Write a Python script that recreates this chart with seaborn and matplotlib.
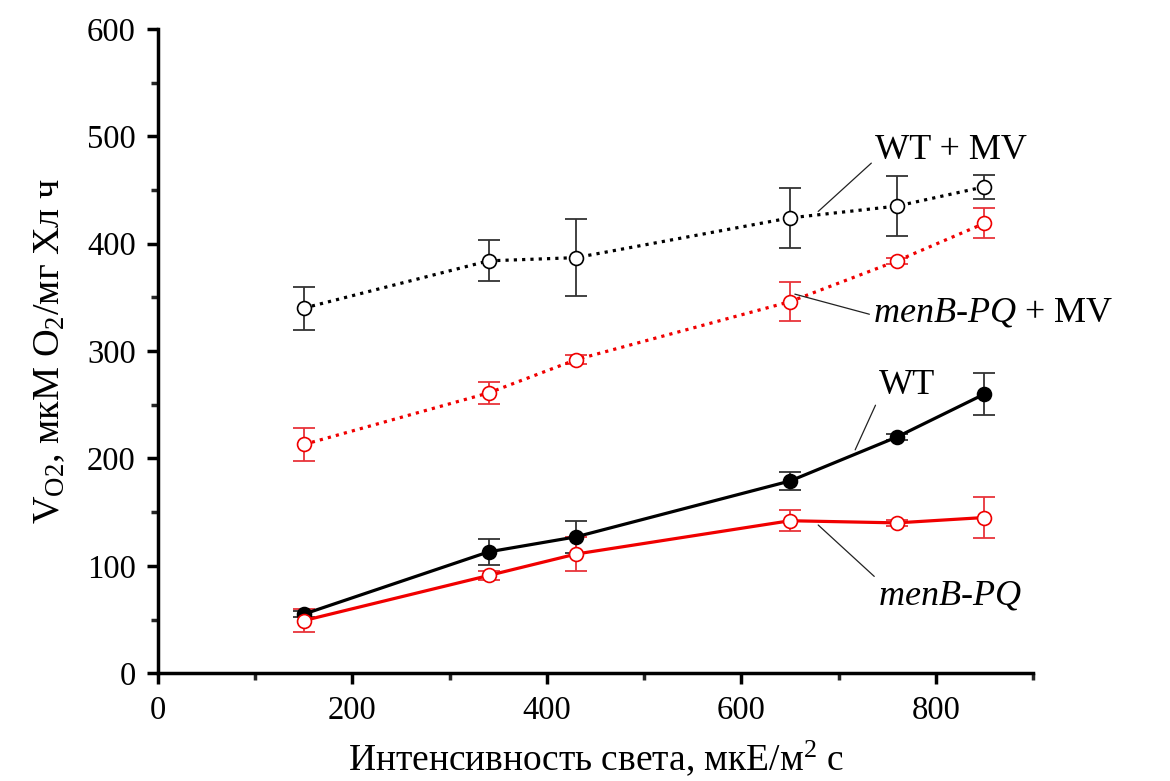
import numpy as np
import pandas as pd
import matplotlib
matplotlib.use("Agg")
import matplotlib.pyplot as plt
import seaborn as sns

sns.set_theme(style="ticks")
plt.rcParams['font.family'] = ['Liberation Serif', 'DejaVu Serif']
plt.rcParams['mathtext.fontset'] = 'custom'
plt.rcParams['mathtext.rm'] = 'Liberation Serif'
plt.rcParams['mathtext.it'] = 'Liberation Serif:italic'
plt.rcParams['text.color'] = 'black'
plt.rcParams['axes.labelcolor'] = 'black'

light = [150, 340, 430, 650, 760, 850]
wt_mv = [340, 384, 387, 424, 435, 453]
wt_mv_err = [20, 19, 36, 28, 28, 11]
pq_mv = [213, 261, 292, 346, 384, 419]
pq_mv_err = [15, 10, 4, 18, 3, 14]
wt = [55, 113, 127, 179, 220, 260]
wt_err = [3, 12, 15, 8, 3, 20]
pq = [49, 91, 111, 142, 140, 145]
pq_err = [11, 4, 16, 10, 3, 19]

RED = '#f00000'
RED_ERR = '#e8343a'

fig = plt.figure(figsize=(11.7, 7.81), dpi=100)
ax = fig.add_axes([0.135, 0.138, 0.748, 0.825])

series = [
    (wt_mv, wt_mv_err, 'black', '#333333', 'white', (0, (1, 1.6))),
    (pq_mv, pq_mv_err, RED, RED_ERR, 'white', (0, (1, 1.6))),
    (wt, wt_err, 'black', '#333333', 'black', '-'),
    (pq, pq_err, RED, RED_ERR, 'white', '-'),
]

for vals, errs, col, ecol, face, ls in series:
    df = pd.DataFrame({'x': light, 'y': vals})
    ax.errorbar(light, vals, yerr=errs, fmt='none', ecolor=ecol,
                elinewidth=1.3, capsize=8, capthick=1.3, zorder=2)
    sns.lineplot(data=df, x='x', y='y', ax=ax, color=col, linewidth=2.3,
                 linestyle=ls, marker='o', markersize=10,
                 markerfacecolor=face, markeredgecolor=col,
                 markeredgewidth=1.2, zorder=3)

ax.set_xlim(0, 900)
ax.set_ylim(0, 600)
ax.set_xticks([0, 200, 400, 600, 800])
ax.set_xticks([100, 300, 500, 700, 900], minor=True)
ax.set_yticks([0, 100, 200, 300, 400, 500, 600])
ax.set_yticks(np.arange(50, 600, 100), minor=True)
ax.tick_params(axis='both', which='major', direction='out', length=8, width=2.5,
               labelsize=23.5, colors='black', pad=8)
ax.tick_params(axis='both', which='minor', direction='out', length=5, width=2.5)
for s in ['top', 'right']:
    ax.spines[s].set_visible(False)
for s in ['left', 'bottom']:
    ax.spines[s].set_linewidth(2.5)
    ax.spines[s].set_color('black')

ax.set_xlabel('Интенсивность света, мкЕ/м$^2$ с', fontsize=27, labelpad=9)
ax.set_ylabel('V$_{\\mathrm{O2}}$, мкМ O$_2$/мг Хл ч', fontsize=27.5, labelpad=14)

lw = 0.9
fs = 26
ax.annotate('WT + MV', xy=(679, 430), xytext=(737, 487), fontsize=fs,
            va='center', ha='left',
            arrowprops=dict(arrowstyle='-', color='#222222', lw=lw,
                            shrinkA=0, shrinkB=0, relpos=(0, 0.2)))
ax.annotate('$\\it{menB}$-$\\it{PQ}$ + MV', xy=(655, 353), xytext=(735, 335), fontsize=fs,
            va='center', ha='left',
            arrowprops=dict(arrowstyle='-', color='#222222', lw=lw,
                            shrinkA=0, shrinkB=0, relpos=(0, 0.45)))
ax.annotate('WT', xy=(717, 208), xytext=(741, 268), fontsize=fs,
            va='center', ha='left',
            arrowprops=dict(arrowstyle='-', color='#222222', lw=lw,
                            shrinkA=0, shrinkB=0, relpos=(0, 0.1)))
ax.annotate('$\\it{menB}$-$\\it{PQ}$', xy=(679, 138), xytext=(740, 72), fontsize=fs,
            va='center', ha='left',
            arrowprops=dict(arrowstyle='-', color='#222222', lw=lw,
                            shrinkA=0, shrinkB=0, relpos=(0, 1.0)))

fig.savefig('out.png', dpi=100)
